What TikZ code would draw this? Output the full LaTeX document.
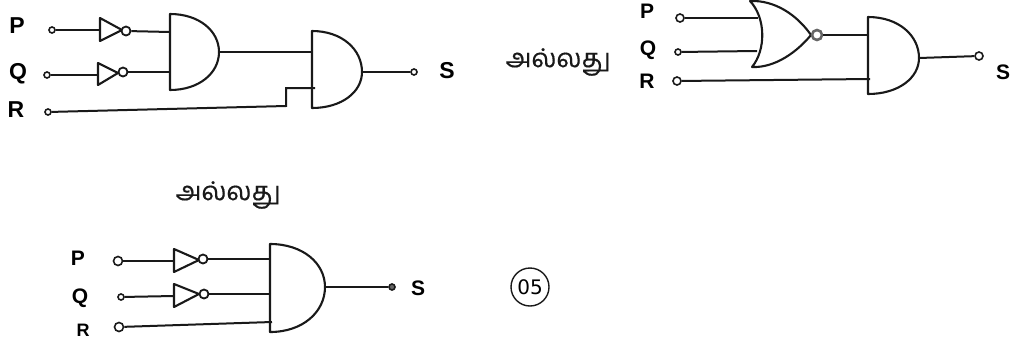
\documentclass[tikz,border=0pt]{standalone}
\usepackage{fontspec}
\setmainfont{Liberation Sans}
\newfontfamily\tamilfont[Script=Tamil,FakeBold=0.5]{Hind Madurai}
\newfontfamily\numfont{DejaVu Sans}
\tikzset{
  gateline/.style={line width=2.1pt,line join=round,black!90},
  wire/.style={line width=2pt,black!90},
  terminal/.style={circle,draw=black!90,line width=1.6pt,fill=white,inner sep=0pt,minimum size=7pt},
  bubble/.style={circle,draw=black!90,line width=1.8pt,fill=white,inner sep=0pt,minimum size=9pt},
  siglabel/.style={font=\bfseries\fontsize{21}{21}\selectfont,inner sep=0pt},
  biglabel/.style={font=\bfseries\fontsize{23}{23}\selectfont,inner sep=0pt},
  word/.style={font=\tamilfont\fontsize{26}{27}\selectfont,inner sep=0pt,black!90}
}
% name, left x, top y, bottom y, apex x, apex y
\newcommand{\andshape}[6]{%
  \draw[gateline] (#2,#3) -- (#2,#4) .. controls ({#2+0.6*(#5-#2)},#4) and (#5,{#6+0.55*(#4-#6)}) .. (#5,#6)
    .. controls (#5,{#6-0.55*(#6-#3)}) and ({#2+0.6*(#5-#2)},#3) .. (#2,#3) -- cycle;
  \coordinate (#1) at (#5,#6);}
% left x, top y, bottom y, apex x, apex y
\newcommand{\invshape}[5]{%
  \draw[gateline] (#1,#2) -- (#1,#3) -- (#4,#5) -- cycle;}
\begin{document}
\begin{tikzpicture}[x=1pt,y=-1pt]
\useasboundingbox (0,0) rectangle (1011,343);
% ---------- diagram 1
\node[biglabel] (P1) at (17,26) {P};
\node[biglabel] (Q1) at (18,74) {Q};
\node[biglabel] (R1) at (16,110) {R};
\node[biglabel] (S1) at (447,71) {S};
\node[terminal,minimum size=6pt] (tp1) at (52,30) {};
\node[terminal,minimum size=6pt] (tq1) at (47,75) {};
\node[terminal,minimum size=6pt] (tr1) at (48,112) {};
\node[terminal,minimum size=6pt] (ts1) at (414,72) {};
\andshape{a1}{170}{14}{90}{219}{52}
\andshape{a2}{312}{31}{108}{362}{72}
\invshape{100}{18}{41}{122}{30}
\invshape{98}{63}{85}{118}{73}
\coordinate (i1) at (100,30);
\coordinate (i2) at (98,75);
\node[bubble] (b1) at (126,31) {};
\node[bubble] (b2) at (123,72) {};
\coordinate (a1p) at (170,32);
\coordinate (a1q) at (170,72);
\coordinate (a2p) at (312,52);
\coordinate (a2r) at (315,88);
\coordinate (k1) at (286,106);
\coordinate (k2) at (286,88);
\draw[wire] (tp1) -- (i1);
\draw[wire] (tq1) -- (i2);
\draw[wire] (b1) -- (a1p);
\draw[wire] (b2) -- (a1q);
\draw[wire] (a1) -- (a2p);
\draw[wire] (tr1) -- (k1) -- (k2) -- (a2r);
\draw[wire] (a2) -- (ts1);
% ---------- word 1
\node[word] (w1) at (558,62) {அல்லது};
% ---------- diagram 2
\node[siglabel] (P2) at (647,11) {P};
\node[siglabel] (Q2) at (648,50) {Q};
\node[siglabel] (R2) at (647,81) {R};
\node[siglabel] (S2) at (1003,72) {S};
\node[terminal,minimum size=8pt] (tp2) at (680,18) {};
\node[terminal,minimum size=6pt] (tq2) at (678,52) {};
\node[terminal,minimum size=8pt] (tr2) at (677,81) {};
\node[terminal,minimum size=8pt] (ts2) at (979,56) {};
\draw[gateline] (750,1) .. controls (766,18) and (766,50) .. (752,67)
  .. controls (775,68) and (797,52) .. (811,35)
  .. controls (797,15) and (775,0) .. (750,1) -- cycle;
\andshape{a3}{868}{17}{94}{919}{58}
\node[bubble,draw=black!60,line width=2.6pt,minimum size=10pt] (n1) at (817,35) {};
\coordinate (n1p) at (758,18);
\coordinate (n1q) at (757,51);
\coordinate (a3n) at (868,35);
\coordinate (a3r) at (870,79);
\draw[wire] (tp2) -- (n1p);
\draw[wire] (tq2) -- (n1q);
\draw[wire] (n1) -- (a3n);
\draw[wire] (tr2) -- (a3r);
\draw[wire] (a3) -- (ts2);
% ---------- word 2
\node[word] (w2) at (228,195) {அல்லது};
% ---------- diagram 3
\node[siglabel] (P3) at (78,258) {P};
\node[siglabel] (Q3) at (80,298) {Q};
\node[siglabel,font=\bfseries\fontsize{18}{18}\selectfont] (R3) at (83,330) {R};
\node[siglabel] (S3) at (418,288) {S};
\node[terminal,minimum size=9pt] (tp3) at (118,261) {};
\node[terminal,minimum size=6pt] (tq3) at (121,297) {};
\node[terminal,minimum size=9pt] (tr3) at (119,327) {};
\node[terminal,minimum size=6pt,fill=black!60] (ts3) at (392,287) {};
\andshape{a4}{270}{244}{332}{325}{287}
\invshape{174}{249}{272}{199}{260}
\invshape{174}{284}{307}{199}{294}
\coordinate (i3) at (174,261);
\coordinate (i4) at (174,296);
\node[bubble] (b3) at (203,259) {};
\node[bubble] (b4) at (204,294) {};
\coordinate (a4p) at (270,259);
\coordinate (a4q) at (270,294);
\coordinate (a4r) at (272,322);
\draw[wire] (tp3) -- (i3);
\draw[wire] (tq3) -- (i4);
\draw[wire] (b3) -- (a4p);
\draw[wire] (b4) -- (a4q);
\draw[wire] (tr3) -- (a4r);
\draw[wire] (a4) -- (ts3);
% ---------- mark
\node[circle,draw=black!90,line width=1.4pt,minimum size=38pt,inner sep=0pt,font=\numfont\fontsize{20}{20}\selectfont] (m) at (530,287) {05};
\end{tikzpicture}
\end{document}
